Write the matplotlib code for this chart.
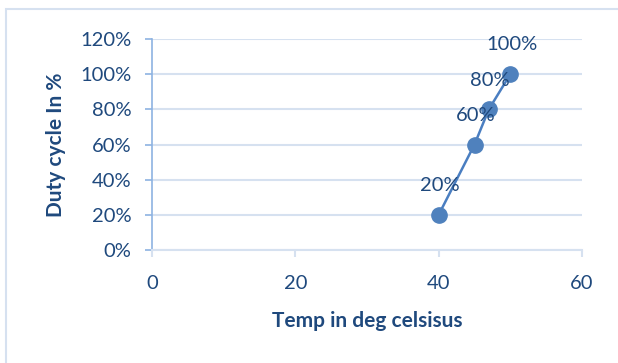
import matplotlib
matplotlib.use('Agg')
import matplotlib.pyplot as plt
from matplotlib.patches import Rectangle
from matplotlib.ticker import FuncFormatter

temps = [40, 45, 47, 50]
duty = [0.20, 0.60, 0.80, 1.00]
labels = ['20%', '60%', '80%', '100%']

text_col = '#1F497D'
grid_col = '#D6E1F0'
line_col = '#4A7EC1'

plt.rcParams['font.family'] = ['Lato', 'DejaVu Sans']

fig = plt.figure(figsize=(6.18, 3.63), dpi=100)
fig.patches.append(Rectangle((6 / 618, -0.1), 1.2, 1 - 9 / 363 + 0.1,
                             transform=fig.transFigure, fill=False,
                             edgecolor='#D6E1F0', linewidth=1.5))

ax = fig.add_axes([152 / 618, 1 - 250 / 363, 430 / 618, 211 / 363])
ax.plot(temps, duty, color=line_col, linewidth=1.8, marker='o',
        markersize=11, markerfacecolor='#4F81BD', markeredgecolor='#4F81BD',
        zorder=3)
for x, y, s in zip(temps, duty, labels):
    ax.annotate(s, (x, y), xytext=(1, 21), textcoords='offset points',
                ha='center', va='center', fontsize=14.5, color=text_col, zorder=4)

ax.set_xlim(0, 60)
ax.set_ylim(0, 1.2)
ax.set_xticks([0, 20, 40, 60])
ax.set_yticks([0, 0.2, 0.4, 0.6, 0.8, 1.0, 1.2])
ax.yaxis.set_major_formatter(FuncFormatter(lambda v, p: '{:.0f}%'.format(v * 100)))
ax.grid(axis='y', color=grid_col, linewidth=1.5)
ax.set_axisbelow(True)

for side in ['top', 'right']:
    ax.spines[side].set_visible(False)
ax.spines['left'].set_color('#8DB3E2')
ax.spines['left'].set_linewidth(1.2)
ax.spines['bottom'].set_color(grid_col)
ax.spines['bottom'].set_linewidth(1.5)
ax.tick_params(axis='y', colors='#8DB3E2', labelcolor=text_col, labelsize=14.5,
               length=5, width=1.2, pad=10)
ax.tick_params(axis='x', colors=grid_col, labelcolor=text_col, labelsize=14.5,
               length=5, width=1.5, pad=13)

ax.set_xlabel('Temp in deg celsisus', fontsize=15, fontweight='bold',
              color=text_col, labelpad=14)
ax.set_ylabel('Duty cycle In %', fontsize=15, fontweight='bold',
              color=text_col, labelpad=10)

fig.savefig('out.png', dpi=100)
